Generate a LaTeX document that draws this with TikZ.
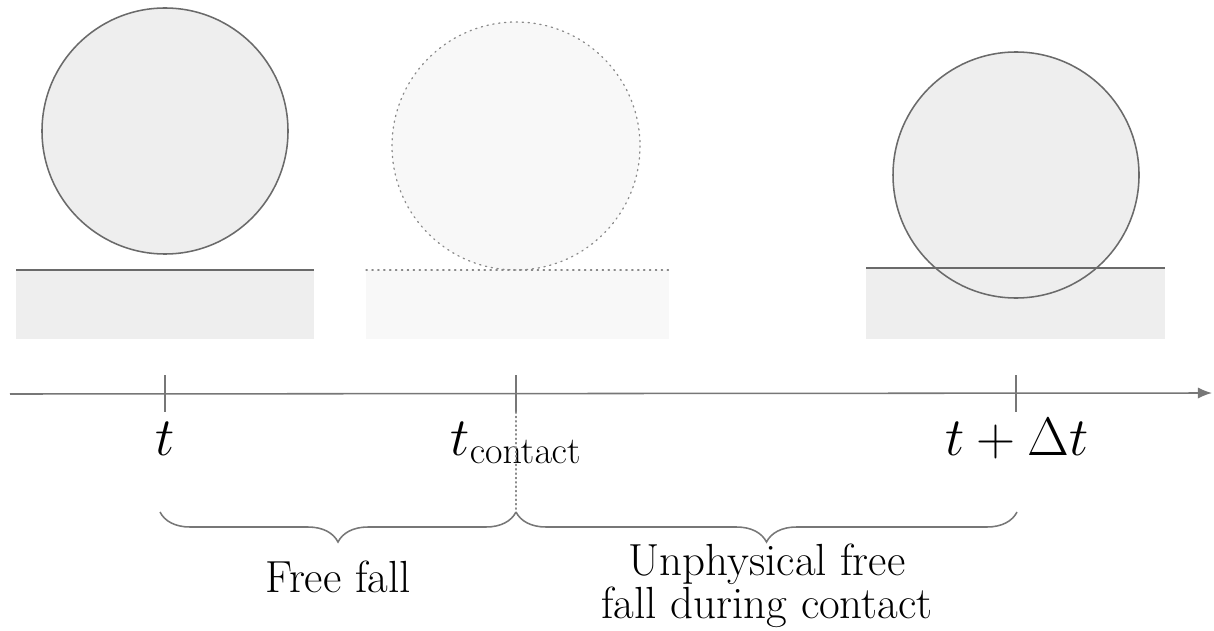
\RequirePackage{fix-cm}
\documentclass[tikz,border=0pt]{standalone}
\usetikzlibrary{arrows.meta,decorations.pathreplacing}
\definecolor{edge}{HTML}{6A6A6A}
\definecolor{solidfill}{HTML}{EEEEEE}
\definecolor{ghostfill}{HTML}{F8F8F8}
\definecolor{ghostedge}{HTML}{8A8A8A}
\definecolor{axiscol}{HTML}{777777}
\tikzset{
  ball/.style={draw=edge, line width=1.1pt, fill=solidfill},
  ghostball/.style={draw=ghostedge, line width=0.9pt, fill=ghostfill, dash pattern=on 0.9pt off 3.3pt, line cap=round},
  ground/.style={fill=solidfill, draw=none},
  ghostground/.style={fill=ghostfill, draw=none},
  surface/.style={draw=edge, line width=1.5pt},
  ghostsurface/.style={draw=ghostedge, line width=0.9pt, dash pattern=on 0.9pt off 3.3pt, line cap=round},
  timeaxis/.style={draw=axiscol, line width=1.1pt, -{Latex[length=10pt,width=8pt]}},
  tickmark/.style={draw=axiscol, line width=1.1pt},
  timelabel/.style={anchor=base, inner sep=0pt, font=\fontsize{38.5}{40}\selectfont},
  phase/.style={draw=axiscol, line width=1.1pt, decorate,
    decoration={brace, mirror, amplitude=0.75cm, aspect=0.5}},
  phaselabel/.style={anchor=base, inner sep=0pt, align=center, font=\fontsize{32}{25}\selectfont},
}
\begin{document}
\begin{tikzpicture}[x=0.025cm, y=-0.025cm]
  \useasboundingbox (0,0) rectangle (1214,630);

  % state at t: ball above the ground
  \fill[ground] (16,270) rectangle (314,339);
  \draw[surface] (16,270) -- (314,270);
  \draw[ball] (165,131) circle (123);

  % state at t_contact: ball just touching (ghosted)
  \fill[ghostground] (366,270) rectangle (669,339);
  \draw[ghostball] (516,146) circle (124);
  \draw[ghostsurface] (366,270) -- (669,270);

  % state at t + Delta t: ball sunk into the ground
  \fill[ground] (866,268) rectangle (1165,339);
  \draw[ball] (1016,175) circle (123);
  \draw[surface] (866,268) -- (1165,268);

  % time axis
  \coordinate (axstart) at (10,394);
  \coordinate (axend) at (1212,393);
  \draw[timeaxis] (axstart) -- (axend);

  \coordinate (t0top) at (165,375);   \coordinate (t0bot) at (165,412);
  \coordinate (tctop) at (516,375);   \coordinate (tcbot) at (516,412);
  \coordinate (t1top) at (1016,375);  \coordinate (t1bot) at (1016,412);
  \draw[tickmark] (t0top) -- (t0bot);
  \draw[tickmark] (tctop) -- (tcbot);
  \draw[tickmark] (t1top) -- (t1bot);

  \node[timelabel] (lt0) at (165,455) {$t$};
  \node[timelabel] (ltc) at (516,455) {$t_{\mathrm{contact}}$};
  \node[timelabel] (lt1) at (1017,455) {$t+\Delta t$};

  % braces for the two phases
  \coordinate (b0) at (160,512);
  \coordinate (bc) at (516,512);
  \coordinate (b1) at (1017,512);
  \draw[ghostedge, line width=0.9pt, dash pattern=on 0.9pt off 2.2pt, line cap=round] (tcbot) -- (bc);
  \draw[phase] (b0) -- (bc);
  \draw[phase] (bc) -- (b1);

  \node[phaselabel] (freefall) at (338,592) {Free fall};
  \node[phaselabel] (unphys) at (767,618) {Unphysical free\\fall during contact};
\end{tikzpicture}
\end{document}
